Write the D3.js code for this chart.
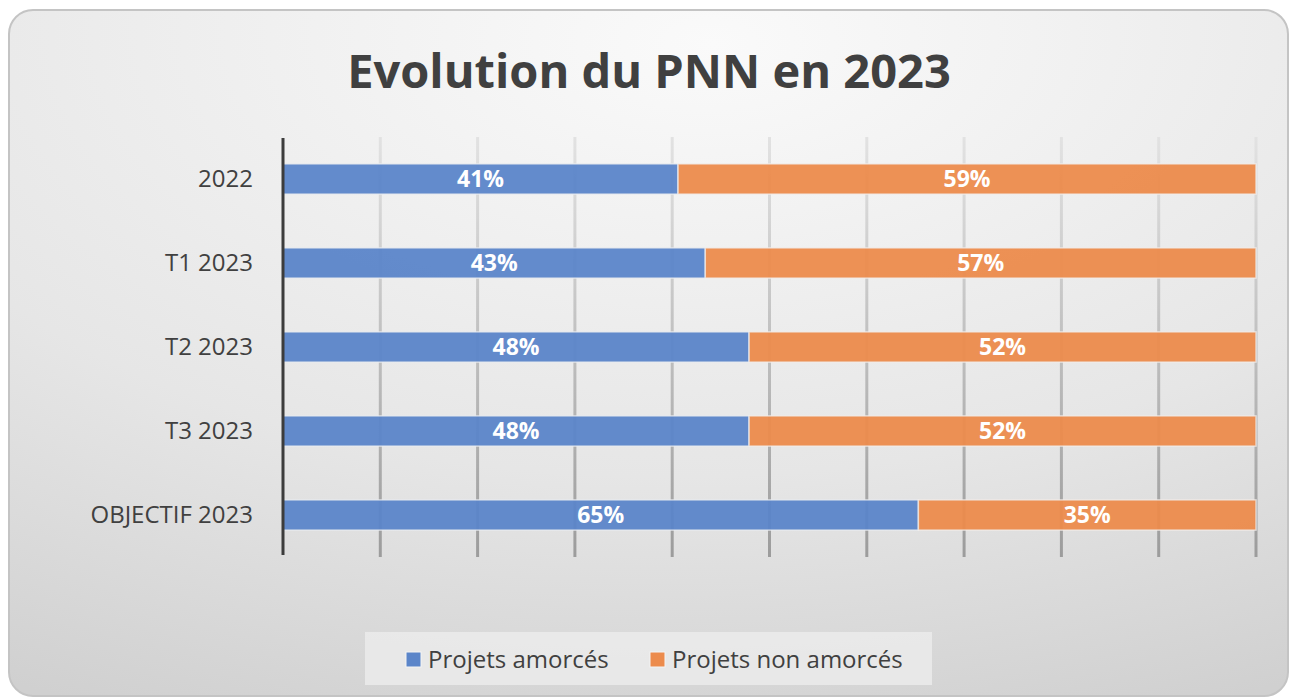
<!DOCTYPE html>
<html>
<head>
<meta charset="utf-8">
<script src="https://cdn.jsdelivr.net/npm/d3@7"></script>
<style>
    body { margin: 0; background: #ffffff; }
    svg { display: block; }
</style>
</head>
<body>
<svg id="chart" width="1291" height="697"></svg>
<script>

var categories = ['2022', 'T1 2023', 'T2 2023', 'T3 2023', 'OBJECTIF 2023'];
var seriesNames = ['Projets amorcés', 'Projets non amorcés'];
// shares, labels show them rounded
var amorces = [40.6, 43.4, 47.9, 47.9, 65.3];
var nonAmorces = [59.4, 56.6, 52.1, 52.1, 34.7];
var xTicks = [0, 10, 20, 30, 40, 50, 60, 70, 80, 90, 100];

var colors = ['#5b85c9', '#ec8b4c'];
var textColor = '#404040';
var font = '"Open Sans", "Liberation Sans", sans-serif';

var svg = d3.select('#chart');
var defs = svg.append('defs');

// card background
var bg = defs.append('radialGradient')
    .attr('id', 'bgGrad')
    .attr('cx', '50%').attr('cy', '0%')
    .attr('r', '110%')
    .attr('fx', '55%').attr('fy', '5%');
bg.append('stop').attr('offset', '0%').attr('stop-color', '#fafafa');
bg.append('stop').attr('offset', '60%').attr('stop-color', '#e6e6e6');
bg.append('stop').attr('offset', '100%').attr('stop-color', '#d0d0d0');

svg.append('rect')
    .attr('x', 9)
    .attr('y', 10)
    .attr('width', 1279)
    .attr('height', 686)
    .attr('rx', 24)
    .attr('fill', 'url(#bgGrad)')
    .attr('stroke', '#c4c4c4')
    .attr('stroke-width', 2);

var plot = { left: 283, right: 1256, top: 137, bottom: 557 };

var x = d3.scaleLinear()
    .domain([0, 100])
    .range([plot.left, plot.right]);

var y = d3.scaleBand()
    .domain(categories)
    .range([plot.top, plot.bottom])
    .paddingInner(0.64)
    .paddingOuter(0.32);

// gridlines
var gridGrad = defs.append('linearGradient')
    .attr('id', 'gridGrad')
    .attr('gradientUnits', 'userSpaceOnUse')
    .attr('x1', 0).attr('y1', plot.top)
    .attr('x2', 0).attr('y2', plot.bottom);
gridGrad.append('stop').attr('offset', '0%').attr('stop-color', '#e2e2e2');
gridGrad.append('stop').attr('offset', '100%').attr('stop-color', '#9c9c9c');

svg.append('g')
    .selectAll('line')
    .data(xTicks.slice(1))
    .enter()
    .append('line')
        .attr('x1', function(d) { return x(d); })
        .attr('x2', function(d) { return x(d); })
        .attr('y1', plot.top)
        .attr('y2', plot.bottom)
        .attr('stroke', 'url(#gridGrad)')
        .attr('stroke-width', 3);

// stacked bars
var rows = categories.map(function(c, i) {
    return { cat: c, a: amorces[i], n: nonAmorces[i] };
});
var stack = d3.stack().keys(['a', 'n'])(rows);

var layers = svg.append('g')
    .selectAll('g')
    .data(stack)
    .enter()
    .append('g')
        .attr('fill', function(d, i) { return colors[i]; });

layers.selectAll('rect')
    .data(function(d) { return d; })
    .enter()
    .append('rect')
        .attr('x', function(d) { return x(d[0]); })
        .attr('y', function(d) { return y(d.data.cat); })
        .attr('width', function(d) { return x(d[1]) - x(d[0]); })
        .attr('height', y.bandwidth())
        .attr('fill-opacity', 0.95)
        .attr('stroke', '#f2f2f2')
        .attr('stroke-opacity', 0.7)
        .attr('stroke-width', 1.5);

// data labels
layers.selectAll('text')
    .data(function(d) { return d; })
    .enter()
    .append('text')
        .attr('x', function(d) { return (x(d[0]) + x(d[1])) / 2; })
        .attr('y', function(d) { return y(d.data.cat) + y.bandwidth() / 2; })
        .attr('dy', '0.36em')
        .attr('text-anchor', 'middle')
        .attr('fill', '#ffffff')
        .attr('font-family', font)
        .attr('font-weight', 'bold')
        .attr('font-size', 23)
        .text(function(d) { return Math.round(d[1] - d[0]) + '%'; });

// category axis
var yAxis = svg.append('g')
    .attr('transform', 'translate(' + plot.left + ',0)')
    .call(d3.axisLeft(y).tickSize(0).tickPadding(30));
yAxis.select('.domain')
    .attr('d', 'M0,' + (plot.top + 1) + 'V' + (plot.bottom - 2))
    .attr('stroke', '#3c3c3c')
    .attr('stroke-width', 3);
yAxis.selectAll('text')
    .attr('fill', textColor)
    .attr('font-family', font)
    .attr('font-size', 24);

// title
svg.append('text')
    .attr('x', 649)
    .attr('y', 88)
    .attr('text-anchor', 'middle')
    .attr('fill', textColor)
    .attr('font-family', font)
    .attr('font-weight', 'bold')
    .attr('font-size', 47)
    .text('Evolution du PNN en 2023');

// legend
svg.append('rect')
    .attr('x', 365)
    .attr('y', 632)
    .attr('width', 567)
    .attr('height', 53)
    .attr('fill', '#ececec')
    .attr('fill-opacity', 0.8);

var legendX = [406, 650];
var legend = svg.append('g')
    .selectAll('g')
    .data(seriesNames)
    .enter()
    .append('g')
        .attr('transform', function(d, i) { return 'translate(' + legendX[i] + ',652)'; });

legend.append('rect')
    .attr('width', 15)
    .attr('height', 15)
    .attr('fill', function(d, i) { return colors[i]; })
    .attr('stroke', '#f4f4f4')
    .attr('stroke-width', 1);

legend.append('text')
    .attr('x', 22)
    .attr('y', 7)
    .attr('dy', '0.36em')
    .attr('fill', textColor)
    .attr('font-family', font)
    .attr('font-size', 24)
    .text(function(d) { return d; });

</script>
</body>
</html>
